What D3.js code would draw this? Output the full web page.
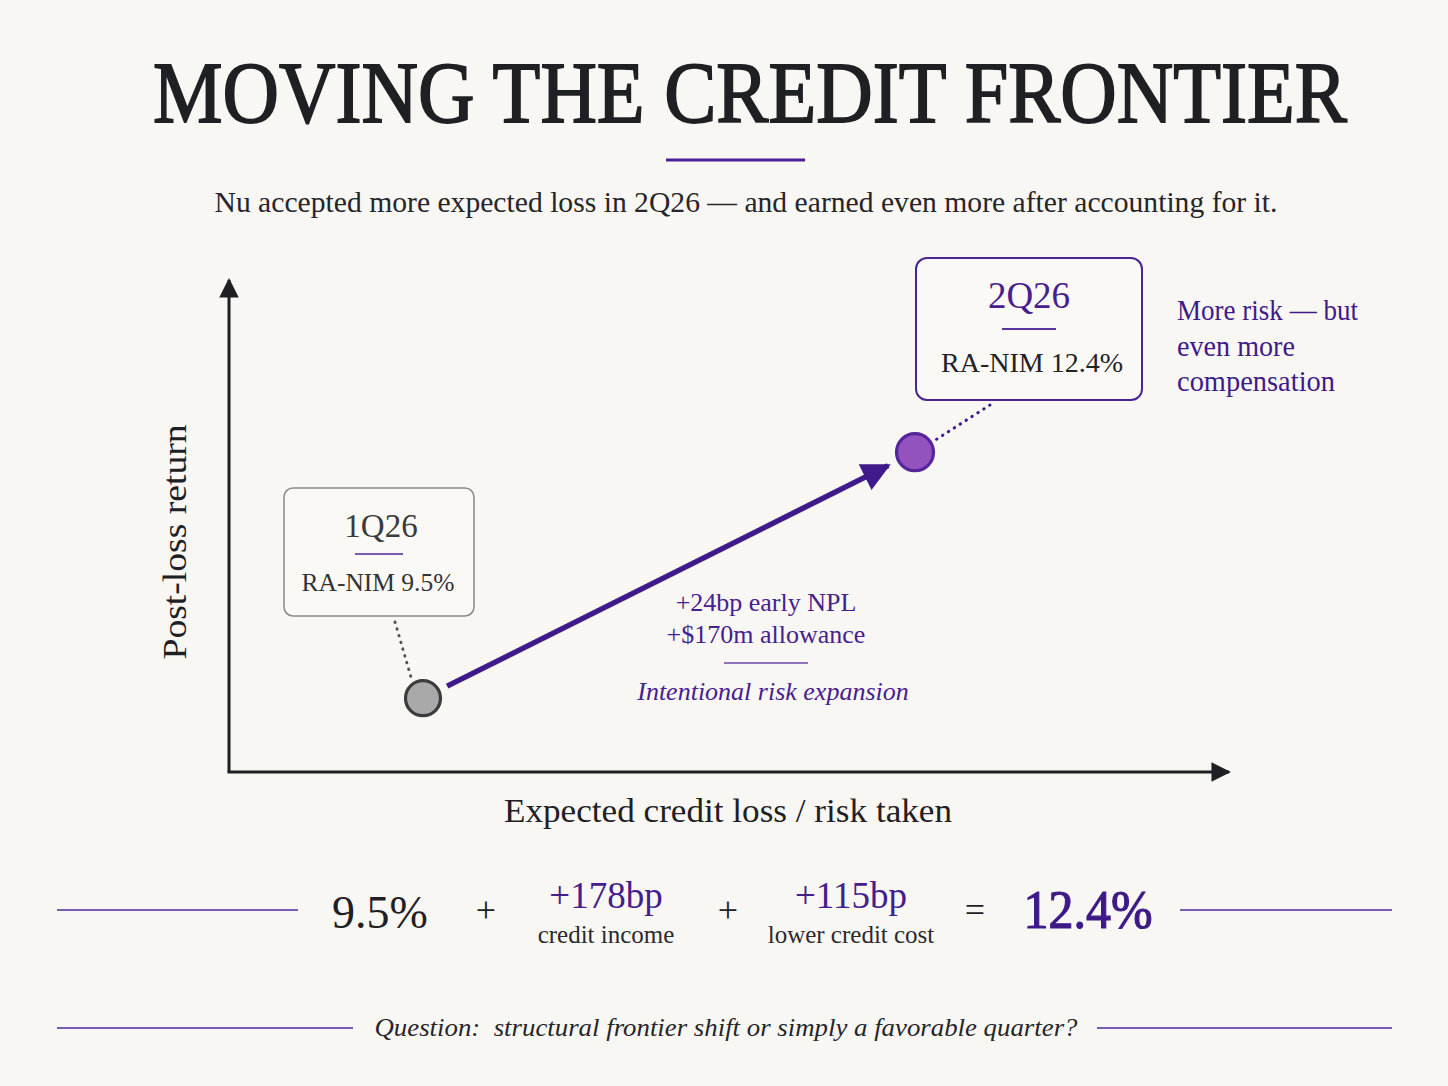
<!DOCTYPE html>
<html>
<head>
<meta charset="utf-8">
<script src="https://cdn.jsdelivr.net/npm/d3@7"></script>
<style>
  html, body { margin: 0; padding: 0; background: #f9f7f3; }
  svg { display: block; font-family: "Liberation Serif", "DejaVu Serif", serif; }
</style>
</head>
<body>
<svg id="chart" width="1448" height="1086"></svg>
<script>
// chart values
const quarters = ["1Q26", "2Q26"];
const raNim = [9.5, 12.4];            // post-loss return, %
const riskIndex = [1.94, 6.86];       // relative expected credit loss (schematic)
const bridgeBase = 9.5;
const bridgeSteps = [178, 115];       // bp
const bridgeLabels = ["credit income", "lower credit cost"];
const riskNotes = ["+24bp early NPL", "+$170m allowance"];

const purple = "#3f1a8a";
const purpleLine = "#7b5cb4";
const ink = "#1f2024";

const svg = d3.select("#chart");

// background
svg.append("rect").attr("width", 1448).attr("height", 1086).attr("fill", "#f9f7f3");

// title + subtitle (condensed serif look: narrow glyphs stretched tall)
svg.append("g")
  .attr("transform", "translate(750,122) scale(1,1.25)")
  .append("text")
  .attr("text-anchor", "middle")
  .attr("font-size", 70)
  .attr("fill", ink).attr("stroke", ink).attr("stroke-width", 1.4)
  .attr("textLength", 1194).attr("lengthAdjust", "spacingAndGlyphs")
  .text("MOVING THE CREDIT FRONTIER");

svg.append("line")
  .attr("x1", 666).attr("x2", 805).attr("y1", 160).attr("y2", 160)
  .attr("stroke", "#4b1f96").attr("stroke-width", 3);

svg.append("text")
  .attr("x", 746).attr("y", 212)
  .attr("text-anchor", "middle")
  .attr("font-size", 30).attr("fill", "#26262a")
  .attr("textLength", 1063).attr("lengthAdjust", "spacingAndGlyphs")
  .text("Nu accepted more expected loss in 2Q26 \u2014 and earned even more after accounting for it.");

// scales
let x = d3.scaleLinear().domain([0, 10]).range([229, 1229]);
let y = d3.scaleLinear().domain([8.63, 14.43]).range([772, 280]);

// arrow markers
let defs = svg.append("defs");
defs.append("marker")
  .attr("id", "axisHead").attr("viewBox", "0 0 10 10")
  .attr("refX", 9).attr("refY", 5)
  .attr("markerWidth", 6.5).attr("markerHeight", 6.5)
  .attr("markerUnits", "strokeWidth")
  .attr("orient", "auto")
  .append("path").attr("d", "M0,0 L10,5 L0,10 Z").attr("fill", ink);

defs.append("marker")
  .attr("id", "moveHead").attr("viewBox", "0 0 10 10")
  .attr("refX", 9).attr("refY", 5)
  .attr("markerWidth", 5.5).attr("markerHeight", 5.2)
  .attr("markerUnits", "strokeWidth")
  .attr("orient", "auto")
  .append("path").attr("d", "M0,0 L10,5 L0,10 Z").attr("fill", purple);

// axes (schematic, no ticks)
let [x0, x1] = x.range();
let [y0, y1] = y.range();
svg.append("line")
  .attr("x1", x0).attr("y1", y0).attr("x2", x0).attr("y2", y1)
  .attr("stroke", ink).attr("stroke-width", 3)
  .attr("marker-end", "url(#axisHead)");
svg.append("line")
  .attr("x1", x0 - 1.5).attr("y1", y0).attr("x2", x1).attr("y2", y0)
  .attr("stroke", ink).attr("stroke-width", 3)
  .attr("marker-end", "url(#axisHead)");

svg.append("text")
  .attr("transform", `translate(186,542) rotate(-90)`)
  .attr("text-anchor", "middle")
  .attr("font-size", 33).attr("fill", ink)
  .attr("textLength", 235).attr("lengthAdjust", "spacingAndGlyphs")
  .text("Post-loss return");

svg.append("text")
  .attr("x", 728).attr("y", 822)
  .attr("text-anchor", "middle")
  .attr("font-size", 33).attr("fill", ink)
  .attr("textLength", 448).attr("lengthAdjust", "spacingAndGlyphs")
  .text("Expected credit loss / risk taken");

// points
let pts = quarters.map((q, i) => ({ q, cx: x(riskIndex[i]), cy: y(raNim[i]), v: raNim[i] }));
let p0 = pts[0], p1 = pts[1];

// movement arrow between quarters
let ang = Math.atan2(p1.cy - p0.cy, p1.cx - p0.cx);
svg.append("line")
  .attr("x1", p0.cx + Math.cos(ang) * 27).attr("y1", p0.cy + Math.sin(ang) * 27)
  .attr("x2", p1.cx - Math.cos(ang) * 30).attr("y2", p1.cy - Math.sin(ang) * 30)
  .attr("stroke", purple).attr("stroke-width", 5.5)
  .attr("marker-end", "url(#moveHead)");

// 1Q26 callout
let b0 = { x: 284, y: 488, w: 190, h: 128 };
svg.append("line")
  .attr("x1", 395).attr("y1", b0.y + b0.h + 6)
  .attr("x2", p0.cx - 12).attr("y2", p0.cy - 21)
  .attr("stroke", "#555").attr("stroke-width", 3)
  .attr("stroke-linecap", "round").attr("stroke-dasharray", "0.5,6.5");
svg.append("rect")
  .attr("x", b0.x).attr("y", b0.y).attr("width", b0.w).attr("height", b0.h)
  .attr("rx", 9).attr("fill", "#faf9f6")
  .attr("stroke", "#8c8c8c").attr("stroke-width", 1.6);
svg.append("text")
  .attr("x", 381).attr("y", 537)
  .attr("text-anchor", "middle").attr("font-size", 33).attr("fill", "#3b3b3d")
  .text(p0.q);
svg.append("line")
  .attr("x1", 355).attr("x2", 403).attr("y1", 554).attr("y2", 554)
  .attr("stroke", "#7a5ab0").attr("stroke-width", 1.8);
svg.append("text")
  .attr("x", 378).attr("y", 591)
  .attr("text-anchor", "middle").attr("font-size", 26).attr("fill", "#333336")
  .attr("textLength", 153).attr("lengthAdjust", "spacingAndGlyphs")
  .text(`RA-NIM ${p0.v}%`);

// 2Q26 callout
let b1 = { x: 916, y: 258, w: 226, h: 142 };
svg.append("line")
  .attr("x1", 990).attr("y1", b1.y + b1.h + 5)
  .attr("x2", p1.cx + 20).attr("y2", p1.cy - 12)
  .attr("stroke", purple).attr("stroke-width", 3)
  .attr("stroke-linecap", "round").attr("stroke-dasharray", "0.5,6.5");
svg.append("rect")
  .attr("x", b1.x).attr("y", b1.y).attr("width", b1.w).attr("height", b1.h)
  .attr("rx", 11).attr("fill", "#faf9f6")
  .attr("stroke", "#4a2592").attr("stroke-width", 2);
svg.append("text")
  .attr("x", 1029).attr("y", 308)
  .attr("text-anchor", "middle").attr("font-size", 37).attr("fill", "#48208e")
  .text(p1.q);
svg.append("line")
  .attr("x1", 1002).attr("x2", 1056).attr("y1", 329).attr("y2", 329)
  .attr("stroke", "#5a34a0").attr("stroke-width", 2);
svg.append("text")
  .attr("x", 1032).attr("y", 372)
  .attr("text-anchor", "middle").attr("font-size", 28).attr("fill", "#232326")
  .text(`RA-NIM ${p1.v}%`);

// point circles
svg.selectAll("circle.pt")
  .data(pts)
  .join("circle")
  .attr("class", "pt")
  .attr("cx", d => d.cx).attr("cy", d => d.cy)
  .attr("r", (d, i) => i === 0 ? 17.5 : 18.5)
  .attr("fill", (d, i) => i === 0 ? "#a9a9a9" : "#9452bf")
  .attr("stroke", (d, i) => i === 0 ? "#3c3c3e" : "#55259a")
  .attr("stroke-width", 3.2);

// right note
[["More risk \u2014 but", 181], ["even more", 118], ["compensation", 158]].forEach(([t, w], i) => {
  svg.append("text")
    .attr("x", 1177).attr("y", 320 + i * 35.5)
    .attr("font-size", 29).attr("fill", purple)
    .attr("textLength", w).attr("lengthAdjust", "spacingAndGlyphs")
    .text(t);
});

// middle notes
riskNotes.forEach((t, i) => {
  svg.append("text")
    .attr("x", 766).attr("y", 611 + i * 32)
    .attr("text-anchor", "middle").attr("font-size", 26).attr("fill", "#46208f")
    .text(t);
});
svg.append("line")
  .attr("x1", 724).attr("x2", 808).attr("y1", 663).attr("y2", 663)
  .attr("stroke", "#6a48a8").attr("stroke-width", 1.6);
svg.append("text")
  .attr("x", 773).attr("y", 700)
  .attr("text-anchor", "middle").attr("font-size", 26).attr("font-style", "italic")
  .attr("fill", "#46208f")
  .text("Intentional risk expansion");

// bridge equation
let eqY = 910;
svg.append("line").attr("x1", 57).attr("x2", 298).attr("y1", eqY).attr("y2", eqY)
  .attr("stroke", purpleLine).attr("stroke-width", 2);
svg.append("line").attr("x1", 1180).attr("x2", 1392).attr("y1", eqY).attr("y2", eqY)
  .attr("stroke", purpleLine).attr("stroke-width", 2);

svg.append("text")
  .attr("x", 380).attr("y", 928)
  .attr("text-anchor", "middle").attr("font-size", 46).attr("fill", ink)
  .text(`${bridgeBase}%`);

let stepX = [606, 851];
let plusX = [486, 728];
bridgeSteps.forEach((s, i) => {
  svg.append("text")
    .attr("x", plusX[i]).attr("y", 922)
    .attr("text-anchor", "middle").attr("font-size", 36).attr("fill", ink)
    .text("+");
  svg.append("text")
    .attr("x", stepX[i]).attr("y", 908)
    .attr("text-anchor", "middle").attr("font-size", 37).attr("fill", "#44208c")
    .text(`+${s}bp`);
  svg.append("text")
    .attr("x", stepX[i]).attr("y", 943)
    .attr("text-anchor", "middle").attr("font-size", 25).attr("fill", "#2a2a2d")
    .text(bridgeLabels[i]);
});

svg.append("text")
  .attr("x", 975).attr("y", 922)
  .attr("text-anchor", "middle").attr("font-size", 36).attr("fill", ink)
  .text("=");

let total = bridgeBase + d3.sum(bridgeSteps) / 100;
svg.append("text")
  .attr("x", 1088).attr("y", 928)
  .attr("text-anchor", "middle").attr("font-size", 54)
  .attr("fill", "#3e1a88").attr("stroke", "#3e1a88").attr("stroke-width", 1.2)
  .attr("textLength", 129).attr("lengthAdjust", "spacingAndGlyphs")
  .text(`${total.toFixed(1)}%`);

// closing question
let qY = 1028;
svg.append("line").attr("x1", 57).attr("x2", 353).attr("y1", qY).attr("y2", qY)
  .attr("stroke", purpleLine).attr("stroke-width", 2);
svg.append("line").attr("x1", 1097).attr("x2", 1392).attr("y1", qY).attr("y2", qY)
  .attr("stroke", purpleLine).attr("stroke-width", 2);
svg.append("text")
  .attr("x", 726).attr("y", 1036)
  .attr("text-anchor", "middle").attr("font-size", 26).attr("font-style", "italic")
  .attr("fill", "#26262a")
  .attr("xml:space", "preserve")
  .attr("textLength", 703).attr("lengthAdjust", "spacingAndGlyphs")
  .text("Question:  structural frontier shift or simply a favorable quarter?");
</script>
</body>
</html>
